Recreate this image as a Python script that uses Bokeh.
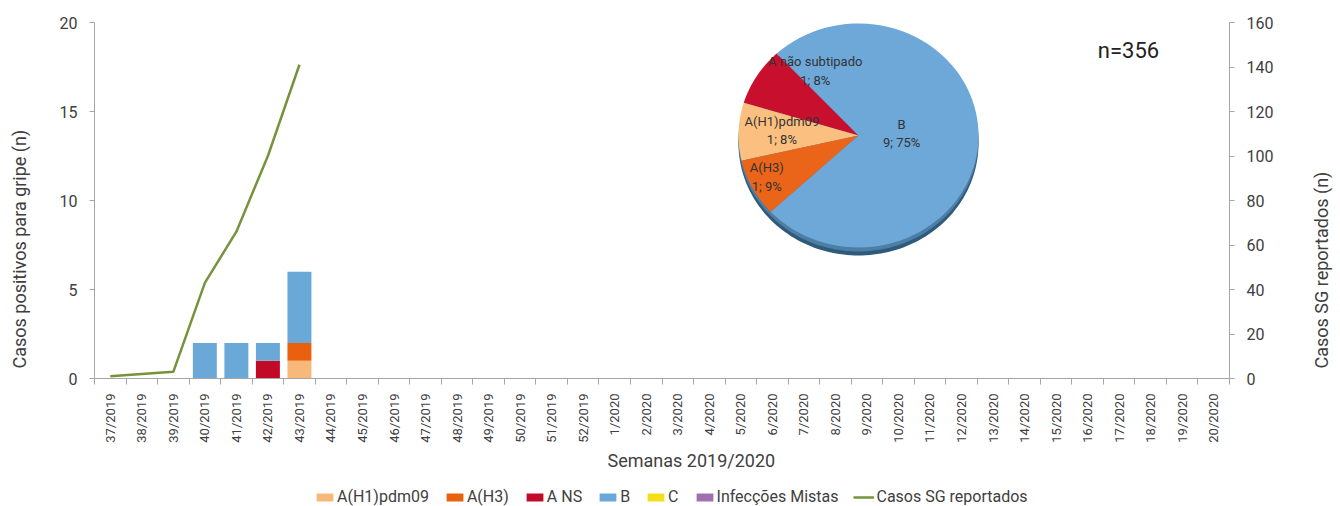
import math
from bokeh.plotting import figure
from bokeh.layouts import row, column
from bokeh.models import Range1d, LinearAxis, FixedTicker, Legend, LegendItem, Label, Title
from bokeh.core.properties import value
from bokeh.embed import file_html
from bokeh.resources import INLINE

# ---------------- data ----------------
weeks = ["37/2019", "38/2019", "39/2019", "40/2019", "41/2019", "42/2019", "43/2019",
         "44/2019", "45/2019", "46/2019", "47/2019", "48/2019", "49/2019", "50/2019",
         "51/2019", "52/2019", "1/2020", "2/2020", "3/2020", "4/2020", "5/2020",
         "6/2020", "7/2020", "8/2020", "9/2020", "10/2020", "11/2020", "12/2020",
         "13/2020", "14/2020", "15/2020", "16/2020", "17/2020", "18/2020", "19/2020",
         "20/2020"]

# positive cases by week (weeks 37/2019 .. 43/2019 reported; later weeks empty)
a_h1pdm09 = [0, 0, 0, 0, 0, 0, 1]
a_h3 = [0, 0, 0, 0, 0, 0, 1]
a_ns = [0, 0, 0, 0, 0, 1, 0]
b_cases = [0, 0, 0, 2, 2, 1, 4]
c_cases = [0, 0, 0, 0, 0, 0, 0]
mixed = [0, 0, 0, 0, 0, 0, 0]
sg_reported = [1, 2, 3, 43, 66, 100, 141]

series_names = ["A(H1)pdm09", "A(H3)", "A NS", "B", "C", "Infecções Mistas"]
series_values = [a_h1pdm09, a_h3, a_ns, b_cases, c_cases, mixed]
series_colors = ["#F8B87A", "#E9600F", "#C00A27", "#6AA8D8", "#F2DF1A", "#A070AE"]
line_name = "Casos SG reportados"
line_color = "#76933C"

pie_names = ["A não subtipado", "A(H1)pdm09", "A(H3)", "B"]
pie_counts = [1, 1, 1, 9]
pie_pct = [8, 8, 9, 75]
pie_colors = ["#C8102E", "#FBC07F", "#EA651A", "#6DA8D8"]

# ---------------- layout / style ----------------
FW, FH = 1135, 356
BL, BT, BB, BR = 62, 22, 100, 77
LEG_H = 28
FONT = "Roboto"
TXT = "#404040"
AX = "#A6A6A6"

p = figure(frame_width=FW, frame_height=FH, min_border_left=BL, min_border_right=BR,
           min_border_top=BT, min_border_bottom=BB,
           x_range=Range1d(0, len(weeks)), y_range=Range1d(0, 20),
           output_backend="svg", toolbar_location=None, outline_line_color=None)
p.extra_y_ranges = {"sg": Range1d(0, 160), "py": Range1d(0, FH)}
p.extra_x_ranges = {"px": Range1d(0, FW)}
p.xgrid.visible = False
p.ygrid.visible = False

xs = [i + 0.5 for i in range(len(weeks))]

# x axis
xa = p.xaxis[0]
xa.ticker = FixedTicker(ticks=xs, minor_ticks=list(range(len(weeks) + 1)))
xa.major_label_overrides = {x: w for x, w in zip(xs, weeks)}
xa.major_label_orientation = math.pi / 2
xa.major_tick_out = 0
xa.major_tick_in = 0
xa.minor_tick_out = 6
xa.minor_tick_in = 0
xa.minor_tick_line_color = AX
xa.axis_line_color = AX
xa.major_label_text_font = FONT
xa.major_label_text_font_size = "13px"
xa.major_label_text_color = TXT
xa.major_label_standoff = 9

# left axis
ya = p.yaxis[0]
ya.ticker = FixedTicker(ticks=[0, 5, 10, 15, 20])
ya.axis_line_color = AX
ya.major_tick_line_color = AX
ya.major_tick_out = 5
ya.major_tick_in = 0
ya.minor_tick_line_color = None
ya.major_label_text_font = FONT
ya.major_label_text_font_size = "16px"
ya.major_label_text_color = TXT
ya.major_label_standoff = 12

# right axis
ra = LinearAxis(y_range_name="sg", ticker=FixedTicker(ticks=list(range(0, 161, 20))))
ra.axis_line_color = AX
ra.major_tick_line_color = AX
ra.major_tick_out = 5
ra.major_tick_in = 0
ra.minor_tick_line_color = None
ra.major_label_text_font = FONT
ra.major_label_text_font_size = "16px"
ra.major_label_text_color = TXT
ra.major_label_standoff = 12
p.add_layout(ra, "right")

# stacked bars
n = len(weeks)
bottom = [0] * n
for name, vals, col in zip(series_names, series_values, series_colors):
    full = vals + [0] * (n - len(vals))
    idx = [i for i in range(n) if full[i] > 0]
    p.vbar(x=[xs[i] for i in idx], bottom=[bottom[i] for i in idx],
           top=[bottom[i] + full[i] for i in idx], width=0.76,
           fill_color=col, line_color=None)
    bottom = [bottom[i] + full[i] for i in range(n)]

# line
p.line(x=xs[:len(sg_reported)], y=sg_reported, y_range_name="sg",
       line_color=line_color, line_width=2.5)

# ---------------- pie (inset) ----------------
cx, cy, rx, ry = 764, 243, 120, 112
start_deg = 133
total = sum(pie_counts)

def arc(a0, a1, dy=0, steps=80):
    ptsx, ptsy = [], []
    for k in range(steps + 1):
        t = math.radians(a0 + (a1 - a0) * k / steps)
        ptsx.append(cx + rx * math.cos(t))
        ptsy.append(cy + dy + ry * math.sin(t))
    return ptsx, ptsy

# 3D rim shadow
sx, sy = arc(0, 360, dy=-8, steps=200)
p.patch(sx, sy, x_range_name="px", y_range_name="py", fill_color="#2F5A7A", line_color=None)
sx2, sy2 = arc(0, 360, dy=-4, steps=200)
p.patch(sx2, sy2, x_range_name="px", y_range_name="py", fill_color="#4C7FA6", line_color=None)

label_shift = [-26, -2, -2, 5]
label_rad = [0.68, 0.64, 0.85, 0.36]
cum = 0
lx, ly, lt = [], [], []
for name, cnt, pct, col, sh, rf in zip(pie_names, pie_counts, pie_pct, pie_colors,
                                       label_shift, label_rad):
    a0 = start_deg + cum / total * 360
    a1 = start_deg + (cum + cnt) / total * 360
    cum += cnt
    ax_, ay_ = arc(a0, a1)
    p.patch([cx] + ax_ + [cx], [cy] + ay_ + [cy], x_range_name="px", y_range_name="py",
            fill_color=col, line_color=None)
    mid = math.radians((a0 + a1) / 2 + sh)
    lx.append(cx + rf * rx * math.cos(mid))
    ly.append(cy + rf * ry * math.sin(mid))
    lt.append(f"{name}\n{cnt}; {pct}%")

p.text(x=lx, y=ly, text=lt, x_range_name="px", y_range_name="py",
       text_align="center", text_baseline="middle", text_font=value(FONT),
       text_font_size="13px", text_color="#333333", text_line_height=1.25)

p.add_layout(Label(x=1034, y=328, x_units="screen", y_units="screen",
                   text=f"n={sum(sg_reported)}", text_align="center",
                   text_baseline="middle", text_font=FONT, text_font_size="22px",
                   text_color="#222222"))

# ---------------- axis titles ----------------
p.add_layout(Title(text="Semanas 2019/2020", align="left", offset=513, standoff=4,
                   text_font=FONT, text_font_size="18px", text_font_style="normal",
                   text_color=TXT), "below")


def title_strip(text, width, border_left):
    """Narrow companion figure holding a vertical axis title (reads bottom-to-top)."""
    f = figure(width=width, frame_height=FH, min_border_left=border_left,
               min_border_right=0, min_border_top=BT, min_border_bottom=BB,
               x_range=Range1d(0, 1), y_range=Range1d(0, 1), x_axis_location=None,
               y_axis_location=None, output_backend="svg", toolbar_location=None,
               outline_line_color=None)
    f.xgrid.visible = False
    f.ygrid.visible = False
    f.add_layout(Title(text=text, align="left", offset=10, standoff=4, text_font=FONT,
                       text_font_size="18px", text_font_style="normal",
                       text_color=TXT), "left")
    return f


p0 = title_strip("Casos positivos para gripe (n)", 32, 31)
p2 = title_strip("Casos SG reportados  (n)", 28, 27)

# ---------------- legend strip below the chart ----------------
# legend proxies: zero-height bar / line placed outside the strip's visible range
total_w = 32 + BL + FW + BR + 28
pl = figure(width=total_w, height=LEG_H, min_border=0, x_range=Range1d(0, 1),
            y_range=Range1d(0, 1), x_axis_location=None, y_axis_location=None,
            output_backend="svg", toolbar_location=None, outline_line_color=None)
pl.xgrid.visible = False
pl.ygrid.visible = False
items = []
for name, col in zip(series_names, series_colors):
    r = pl.vbar(x=[-5], top=[0], width=0.5, fill_color=col, line_color=None)
    items.append(LegendItem(label=name, renderers=[r]))
rl = pl.line(x=[-5, -4], y=[-5, -5], line_color=line_color, line_width=2.5)
items.append(LegendItem(label=line_name, renderers=[rl]))
legend = Legend(items=items, orientation="horizontal", location=(314, 0),
                border_line_color=None, background_fill_alpha=0, glyph_width=21,
                glyph_height=10, label_text_font=FONT, label_text_font_size="16px",
                label_text_color=TXT, spacing=15, label_standoff=2, label_width=0,
                padding=0, margin=0)
pl.add_layout(legend, "center")

layout = column(row(p0, p, p2), pl)
open("out.html", "w").write(file_html(layout, INLINE))
